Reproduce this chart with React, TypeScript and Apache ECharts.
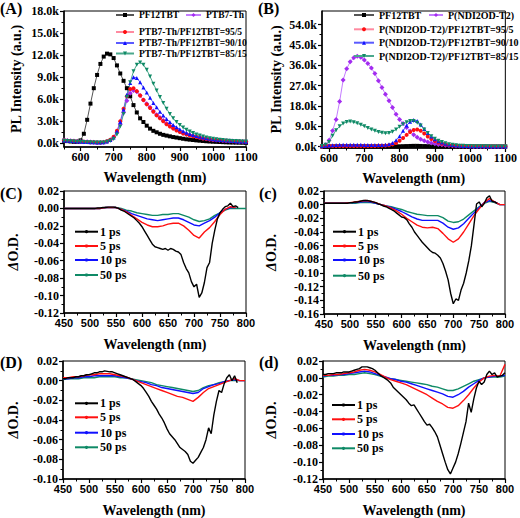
import React, { useEffect, useRef } from 'react';
import * as echarts from 'echarts';

// ---------------- DATA ----------------
// Panel A: PL spectra (k counts)
const A_WL = [550,560,570,580,590,600,610,620,630,640,650,660,670,680,690,700,710,720,730,740,750,760,770,780,790,800,810,820,830,840,850,860,870,880,890,900,910,920,930,940,950,960,970,980,990,1000,1010,1020,1030,1040,1050,1060,1070,1080,1090,1100];
const A_PF12TBT = [0.35,0.3,0.25,0.2,0.2,0.4,1.3,3.2,5.4,7.5,9.3,10.8,11.8,12.2,12.1,11.6,10.6,9.5,8.5,7.5,6.4,5.2,4.2,3.4,2.9,2.4,2.0,1.7,1.5,1.3,1.15,1.05,0.95,0.85,0.78,0.7,0.62,0.55,0.5,0.45,0.4,0.36,0.32,0.28,0.25,0.22,0.2,0.18,0.16,0.14,0.12,0.11,0.1,0.09,0.08,0.07];
const A_PTB7 = [0.45,0.4,0.36,0.32,0.28,0.25,0.22,0.2,0.18,0.15,0.12,0.12,0.15,0.25,0.45,0.8,1.5,2.6,4.2,5.8,6.8,7.2,7.0,6.5,5.9,5.4,4.9,4.4,3.9,3.5,3.1,2.7,2.4,2.1,1.85,1.6,1.4,1.25,1.1,0.98,0.88,0.78,0.7,0.62,0.55,0.5,0.45,0.42,0.38,0.35,0.32,0.3,0.28,0.26,0.24,0.22];
const A_95 = [0.4,0.36,0.32,0.28,0.25,0.22,0.2,0.18,0.16,0.14,0.12,0.12,0.16,0.28,0.5,0.9,1.7,3.0,4.7,6.4,7.4,7.5,7.1,6.5,5.9,5.3,4.8,4.3,3.8,3.4,3.0,2.6,2.3,2.0,1.75,1.55,1.35,1.2,1.05,0.95,0.85,0.75,0.67,0.6,0.53,0.48,0.44,0.4,0.37,0.34,0.31,0.29,0.27,0.25,0.23,0.21];
const A_90 = [0.38,0.34,0.3,0.27,0.24,0.21,0.19,0.17,0.15,0.13,0.12,0.12,0.15,0.26,0.45,0.8,1.6,2.9,4.6,6.6,8.2,9.0,8.9,8.3,7.6,6.9,6.2,5.5,4.9,4.3,3.8,3.3,2.9,2.5,2.2,1.9,1.65,1.45,1.28,1.12,1.0,0.88,0.78,0.7,0.62,0.56,0.5,0.45,0.41,0.37,0.34,0.31,0.28,0.26,0.24,0.22];
const A_85 = [0.35,0.32,0.28,0.25,0.22,0.2,0.18,0.16,0.14,0.12,0.1,0.1,0.12,0.2,0.35,0.6,1.2,2.3,4.0,6.3,8.3,9.8,10.7,11.0,10.7,10.0,9.1,8.1,7.2,6.3,5.5,4.7,4.0,3.4,2.9,2.5,2.15,1.85,1.6,1.4,1.2,1.05,0.92,0.8,0.7,0.62,0.55,0.49,0.44,0.4,0.36,0.33,0.3,0.28,0.26,0.25];

// Panel B: PL spectra (k counts)
const B_WL = [580,590,600,610,620,630,640,650,660,670,680,690,700,710,720,730,740,750,760,770,780,790,800,810,820,830,840,850,860,870,880,890,900,910,920,930,940,950,960,970,980,990,1000,1010,1020,1030,1040,1050,1060,1070,1080,1090,1100];
const B_PF12TBT = [0.05,0.05,0.05,0.05,0.05,0.05,0.05,0.05,0.05,0.05,0.05,0.05,0.05,0.05,0.05,0.05,0.05,0.05,0.05,0.08,0.1,0.12,0.15,0.2,0.25,0.3,0.35,0.35,0.3,0.25,0.2,0.15,0.12,0.1,0.08,0.05,0.05,0.05,0.05,0.05,0.05,0.05,0.05,0.05,0.05,0.05,0.05,0.05,0.05,0.05,0.05,0.05,0.05];
const B_PNDI = [0.1,0.8,2.8,7.0,12.0,20.0,29.5,34.5,37.5,39.3,40.0,39.5,38.3,36.8,34.8,32.3,29.2,26.2,23.2,20.3,17.3,14.3,12.0,10.2,8.5,6.9,5.3,4.2,3.3,2.6,2.0,1.6,1.3,1.0,0.8,0.6,0.5,0.4,0.3,0.25,0.2,0.15,0.12,0.1,0.1,0.08,0.08,0.07,0.07,0.06,0.06,0.05,0.05];
const B_95 = [0.2,0.25,0.3,0.3,0.3,0.3,0.3,0.3,0.3,0.3,0.3,0.3,0.3,0.3,0.3,0.3,0.35,0.4,0.45,0.6,1.0,1.6,2.6,3.8,5.2,6.5,7.4,7.6,7.0,5.8,4.5,3.4,2.5,1.8,1.3,0.95,0.7,0.5,0.38,0.3,0.25,0.2,0.18,0.15,0.13,0.12,0.1,0.1,0.09,0.08,0.08,0.07,0.07];
const B_90 = [0.3,0.4,0.5,0.6,0.7,0.8,0.8,0.85,0.85,0.85,0.8,0.8,0.75,0.75,0.7,0.7,0.7,0.75,0.85,1.1,1.6,2.8,4.6,7.0,9.3,11.0,11.8,11.3,9.8,7.8,6.0,4.5,3.3,2.4,1.8,1.3,1.0,0.75,0.55,0.42,0.33,0.27,0.22,0.19,0.16,0.14,0.12,0.11,0.1,0.09,0.08,0.08,0.07];
const B_85 = [0.3,0.8,2.0,4.8,7.3,9.0,10.2,10.9,11.1,10.8,10.3,9.7,9.0,8.3,7.6,7.0,6.5,6.1,5.9,6.0,6.6,7.6,8.8,9.9,10.8,11.3,11.3,10.6,9.3,7.6,6.0,4.6,3.5,2.6,2.0,1.5,1.1,0.8,0.6,0.45,0.35,0.3,0.25,0.21,0.18,0.16,0.14,0.12,0.11,0.1,0.09,0.08,0.08];

// Transient absorption: black (1 ps) on 5 nm grid, others on 10 nm grid
const T_WL5 = [450,455,460,465,470,475,480,485,490,495,500,505,510,515,520,525,530,535,540,545,550,555,560,565,570,575,580,585,590,595,600,605,610,615,620,625,630,635,640,645,650,655,660,665,670,675,680,685,690,695,700,705,710,715,720,725,730,735,740,745,750,755,760,765,770,775,780,785];
const T_WL5_D = [450,455,460,465,470,475,480,485,490,495,500,505,510,515,520,525,530,535,540,545,550,555,560,565,570,575,580,585,590,595,600,605,610,615,620,625,630,635,640,645,650,655,660,665,670,675,680,685,690,695,700,705,710,715,720,725,730,735,740,745,750,755,760,765,770,775,780,785,790,795,800];
const T_WL10 = [450,460,470,480,490,500,510,520,530,540,550,560,570,580,590,600,610,620,630,640,650,660,670,680,690,700,710,720,730,740,750,760,770,780,790,800];
const DELAYS = ['1 ps', '5 ps', '10 ps', '50 ps'];

const C_1 = [0,0,0,0,0,0,0,0,0,0,0,0,0,0.0005,0.0005,0.001,0.001,0.0015,0.0015,0.0015,0.001,0,-0.002,-0.003,-0.005,-0.007,-0.009,-0.011,-0.014,-0.017,-0.021,-0.026,-0.031,-0.036,-0.041,-0.044,-0.045,-0.046,-0.047,-0.046,-0.048,-0.046,-0.047,-0.049,-0.05,-0.053,-0.062,-0.069,-0.074,-0.084,-0.09,-0.087,-0.102,-0.097,-0.085,-0.068,-0.062,-0.04,-0.025,-0.012,-0.005,-0.001,0.002,0.003,0.006,0.002,0.003,0.001];
const C_5 = [0,0,0,0,0,0,0,0,0.001,0.001,0.001,-0.001,-0.004,-0.008,-0.012,-0.016,-0.019,-0.021,-0.021,-0.02,-0.018,-0.017,-0.017,-0.02,-0.025,-0.031,-0.034,-0.027,-0.022,-0.015,-0.007,-0.001,0.002,0.001,null,null];
const C_10 = [0,0,0,0,0,0,0,0,0.001,0.001,0.001,-0.001,-0.003,-0.006,-0.008,-0.01,-0.012,-0.013,-0.014,-0.013,-0.012,-0.011,-0.011,-0.013,-0.016,-0.019,-0.02,-0.017,-0.014,-0.01,-0.005,-0.001,0.001,0.001,null,null];
const C_50 = [0,0,0,0,0,0,0,0,0.001,0.001,0.001,0,-0.002,-0.003,-0.005,-0.006,-0.007,-0.008,-0.008,-0.007,-0.007,-0.006,-0.006,-0.008,-0.01,-0.013,-0.015,-0.014,-0.012,-0.008,-0.005,-0.002,0,0,0,0];

const c_1 = [0.002,0.002,0.002,0.002,0.002,0.002,0.002,0.002,0.002,0.002,0.003,0.003,0.004,0.004,0.005,0.006,0.006,0.006,0.005,0.004,0.003,0.001,0,-0.002,-0.003,-0.005,-0.007,-0.009,-0.012,-0.015,-0.018,-0.019,-0.022,-0.028,-0.033,-0.04,-0.045,-0.05,-0.055,-0.059,-0.063,-0.067,-0.07,-0.071,-0.074,-0.078,-0.086,-0.097,-0.11,-0.13,-0.145,-0.138,-0.14,-0.125,-0.115,-0.1,-0.082,-0.06,-0.03,0.001,0.004,-0.003,0.002,0.01,0.013,0.005,0.004,0.002];
const c_5 = [0.002,0.002,0.002,0.002,0.002,0.003,0.004,0.005,0.006,0.005,0.003,0,-0.002,-0.005,-0.009,-0.014,-0.02,-0.025,-0.03,-0.033,-0.034,-0.033,-0.035,-0.042,-0.05,-0.055,-0.05,-0.04,-0.028,-0.016,-0.006,0.003,0.009,0.004,0,0];
const c_10 = [0.002,0.002,0.002,0.002,0.002,0.003,0.003,0.004,0.005,0.004,0.002,0,-0.002,-0.004,-0.007,-0.01,-0.014,-0.018,-0.021,-0.023,-0.023,-0.023,-0.023,-0.027,-0.033,-0.036,-0.034,-0.028,-0.02,-0.012,-0.004,0.003,0.006,0.004,0,0];
const c_50 = [0.002,0.002,0.002,0.002,0.002,0.002,0.002,0.003,0.003,0.003,0.002,0,-0.002,-0.003,-0.005,-0.007,-0.01,-0.012,-0.014,-0.015,-0.016,-0.016,-0.016,-0.019,-0.024,-0.026,-0.025,-0.021,-0.015,-0.009,-0.003,0.002,0.005,0.003,0,0];

const D_1 = [0.002,0.002,0.003,0.003,0.003,0.004,0.004,0.005,0.005,0.006,0.006,0.007,0.008,0.008,0.009,0.009,0.01,0.0095,0.009,0.009,0.008,0.007,0.006,0.005,0.004,0.003,0.002,0.001,-0.001,-0.003,-0.005,-0.008,-0.012,-0.016,-0.021,-0.025,-0.029,-0.034,-0.038,-0.043,-0.049,-0.054,-0.057,-0.06,-0.064,-0.068,-0.07,-0.072,-0.075,-0.082,-0.084,-0.081,-0.078,-0.073,-0.068,-0.06,-0.048,-0.054,-0.035,-0.021,-0.01,-0.012,-0.003,0.003,0.006,0,0.005,-0.002];
const D_5 = [0.003,0.003,0.004,0.004,0.005,0.006,0.006,0.007,0.007,0.007,0.006,0.005,0.004,0.002,0,-0.002,-0.004,-0.006,-0.008,-0.01,-0.012,-0.014,-0.016,-0.017,-0.019,-0.021,-0.017,-0.012,-0.008,-0.006,-0.004,-0.002,0,0.002,0,0];
const D_10 = [0.002,0.002,0.003,0.003,0.004,0.004,0.005,0.005,0.005,0.005,0.005,0.004,0.003,0.002,0,-0.001,-0.002,-0.004,-0.005,-0.007,-0.008,-0.009,-0.01,-0.011,-0.012,-0.013,-0.012,-0.008,-0.006,-0.004,-0.003,-0.001,0,0.001,0,0];
const D_50 = [0.001,0.002,0.002,0.002,0.003,0.003,0.003,0.004,0.004,0.004,0.004,0.003,0.003,0.002,0.001,0,-0.001,-0.002,-0.004,-0.005,-0.006,-0.007,-0.008,-0.009,-0.01,-0.011,-0.01,-0.007,-0.005,-0.004,-0.002,-0.001,0,0,0,0];

const d_1 = [0.004,0.004,0.005,0.005,0.005,0.006,0.006,0.006,0.007,0.007,0.007,0.008,0.009,0.01,0.011,0.013,0.013,0.013,0.012,0.011,0.009,0.006,0.003,0.001,-0.001,-0.003,-0.006,-0.011,-0.014,-0.017,-0.02,-0.023,-0.026,-0.03,-0.033,-0.032,-0.037,-0.042,-0.047,-0.052,-0.056,-0.055,-0.059,-0.064,-0.07,-0.08,-0.09,-0.1,-0.109,-0.114,-0.107,-0.1,-0.09,-0.078,-0.065,-0.052,-0.03,-0.041,-0.025,-0.012,-0.004,-0.008,-0.005,0.004,0.008,0.004,0.006,0.001,0.002,0.003,0.006];
const d_5 = [0.003,0.003,0.004,0.004,0.005,0.006,0.007,0.009,0.01,0.009,0.007,0.004,0.001,-0.002,-0.004,-0.006,-0.008,-0.011,-0.014,-0.017,-0.02,-0.024,-0.028,-0.031,-0.035,-0.036,-0.033,-0.027,-0.02,-0.012,-0.005,0,0.002,0.003,0.002,0.016];
const d_10 = [0.002,0.003,0.003,0.004,0.004,0.005,0.006,0.007,0.008,0.007,0.005,0.003,0.001,-0.001,-0.002,-0.004,-0.005,-0.007,-0.009,-0.011,-0.013,-0.015,-0.017,-0.019,-0.022,-0.023,-0.02,-0.016,-0.011,-0.007,-0.003,0,0.001,0.002,0.002,0.003];
const d_50 = [0.001,0.002,0.002,0.003,0.003,0.004,0.004,0.005,0.006,0.005,0.004,0.002,0,-0.001,-0.002,-0.003,-0.004,-0.005,-0.006,-0.007,-0.008,-0.01,-0.011,-0.013,-0.015,-0.015,-0.013,-0.01,-0.007,-0.004,-0.002,0,0.001,0.001,0.001,0.002];

// Tick values
const PL_A_TICKS = [0, 3, 6, 9, 12, 15, 18];
const PL_A_MINOR = [1.5, 4.5, 7.5, 10.5, 13.5, 16.5];
const PL_B_TICKS = [0, 9, 18, 27, 36, 45, 54];
const PL_B_MINOR = [4.5, 13.5, 22.5, 31.5, 40.5, 49.5];
const PL_X_TICKS = [600, 700, 800, 900, 1000, 1100];
const PL_XA_MINOR = [550, 650, 750, 850, 950, 1050];
const PL_XB_MINOR = [650, 750, 850, 950, 1050];
const TA_X_TICKS = [450, 500, 550, 600, 650, 700, 750, 800];
const TA_X_MINOR = [475, 525, 575, 625, 675, 725, 775];
const TA_Y_C = [-0.12, -0.1, -0.08, -0.06, -0.04, -0.02, 0, 0.02];
const TA_Y_c = [-0.16, -0.14, -0.12, -0.1, -0.08, -0.06, -0.04, -0.02, 0, 0.02];
const TA_Y_D = [-0.1, -0.08, -0.06, -0.04, -0.02, 0, 0.02];
const TA_Y_d = [-0.12, -0.1, -0.08, -0.06, -0.04, -0.02, 0, 0.02];

// ---------------- STYLE ----------------
const SERIF = 'Liberation Serif';
const SANS = 'Liberation Sans';
const COL = { k: '#000000', r: '#ff1010', b: '#1010ff', g: '#0f8a66', p: '#a32cf0' };
const LINE = { k: '#555555', r: '#ff8aa0', b: '#5a5aff', g: '#4aa88c', p: '#c47cff' };

const pts = (x: number[], y: (number | null)[]) => x.map((v, i) => [v, y[i]]);

function axes(dim: 'x' | 'y', grid: number, min: number, max: number, majors: number[], minors: number[],
  fmt: (v: number) => string, font: string, name: string, nameGap: number, nameSize: number, nameRich?: any) {
  const main: any = {
    type: 'value', gridIndex: grid, min, max, position: dim === 'x' ? 'bottom' : 'left',
    axisLine: { show: true, onZero: false, lineStyle: { color: '#000', width: 1.5 } },
    axisTick: { show: true, inside: false, length: 4, customValues: majors, lineStyle: { color: '#000', width: 1.2 } },
    axisLabel: { show: true, customValues: majors, formatter: fmt, color: '#000', fontFamily: font, fontWeight: 'bold', fontSize: font === SANS ? 11 : 12, margin: dim === 'x' ? 4 : 5 },
    splitLine: { show: false },
    name, nameLocation: 'middle', nameGap,
    nameMoveOverlap: dim === 'x',
    nameTextStyle: { color: '#000', fontFamily: SERIF, fontWeight: 'bold', fontSize: nameSize, rich: nameRich },
  };
  const minor: any = {
    type: 'value', gridIndex: grid, min, max, position: dim === 'x' ? 'bottom' : 'left',
    axisLine: { show: false, onZero: false },
    axisTick: { show: true, inside: false, length: 2.5, customValues: minors, lineStyle: { color: '#000', width: 1 } },
    axisLabel: { show: false },
    splitLine: { show: false },
  };
  return [main, minor];
}

const mids = (arr: number[]) => arr.slice(0, -1).map((v) => +(v + 0.01).toFixed(3));

function leg(name: string, left: number, cy: number, w: number, size: number, h: number) {
  return {
    data: [name], left, top: cy - 7, orient: 'horizontal', padding: 0, itemGap: 0,
    itemWidth: w, itemHeight: h, align: 'left',
    selectedMode: false,
    textStyle: { color: '#000', fontFamily: SERIF, fontWeight: 'bold', fontSize: size, lineHeight: 14 },
  };
}

export default function App() {
  const ref = useRef<HTMLDivElement>(null);
  useEffect(() => {
    if (!ref.current) return;
    const chart = echarts.init(ref.current, undefined, { renderer: 'svg' });

    const grids = [
      { left: 64, top: 11, width: 182, height: 136 },
      { left: 322, top: 11, width: 185, height: 137 },
      { left: 64, top: 191, width: 182, height: 122 },
      { left: 324, top: 191, width: 181, height: 123 },
      { left: 63, top: 361, width: 182, height: 123 },
      { left: 323, top: 361, width: 182, height: 124 },
    ].map(g => ({ ...g, show: true, borderColor: '#000', borderWidth: 1, backgroundColor: 'transparent' }));

    const kfmt = (v: number) => v.toFixed(1) + 'k';
    const nmfmt = (v: number) => String(Math.round(v));
    const odfmt = (v: number) => (Math.abs(v) < 1e-9 ? '0.00' : v.toFixed(2));
    const wl = 'Wavelength (nm)';
    const od = '{i|Δ}O.D.';
    const odRich = { i: { fontStyle: 'italic', fontFamily: SERIF, fontWeight: 'bold', fontSize: 14, color: '#000' } };

    const xAxis = [
      ...axes('x', 0, 550, 1100, PL_X_TICKS, PL_XA_MINOR, nmfmt, SERIF, wl, 23, 14),
      ...axes('x', 1, 580, 1100, PL_X_TICKS, PL_XB_MINOR, nmfmt, SERIF, wl, 23, 14),
      ...axes('x', 2, 450, 800, TA_X_TICKS, TA_X_MINOR, nmfmt, SANS, wl, 24, 14),
      ...axes('x', 3, 450, 800, TA_X_TICKS, TA_X_MINOR, nmfmt, SANS, wl, 24, 14),
      ...axes('x', 4, 450, 800, TA_X_TICKS, TA_X_MINOR, nmfmt, SANS, wl, 24, 14),
      ...axes('x', 5, 450, 800, TA_X_TICKS, TA_X_MINOR, nmfmt, SANS, wl, 24, 14),
    ];
    const yAxis = [
      ...axes('y', 0, -0.5, 18, PL_A_TICKS, PL_A_MINOR, kfmt, SERIF, 'PL Intensity (a.u.)', 41, 14),
      ...axes('y', 1, -0.6, 60, PL_B_TICKS, PL_B_MINOR, kfmt, SERIF, 'PL Intensity (a.u.)', 39, 14),
      ...axes('y', 2, -0.12, 0.02, TA_Y_C, mids(TA_Y_C), odfmt, SERIF, od, 44, 14, odRich),
      ...axes('y', 3, -0.16, 0.02, TA_Y_c, mids(TA_Y_c), odfmt, SERIF, od, 46, 14, odRich),
      ...axes('y', 4, -0.1, 0.02, TA_Y_D, mids(TA_Y_D), odfmt, SERIF, od, 43, 14, odRich),
      ...axes('y', 5, -0.12, 0.02, TA_Y_d, mids(TA_Y_d), odfmt, SERIF, od, 45, 14, odRich),
    ];

    const mk = (name: string, g: number, x: number[], y: (number | null)[], c: keyof typeof COL, symbol: string, rot = 0) => ({
      type: 'line', name, xAxisIndex: 2 * g, yAxisIndex: 2 * g, data: pts(x, y),
      symbol, symbolSize: symbol === 'diamond' ? 5 : 4, symbolRotate: rot, showSymbol: true,
      itemStyle: { color: COL[c] }, lineStyle: { color: LINE[c], width: 1 },
      emphasis: { disabled: true }, silent: true, z: 3,
    });
    const tl = (name: string, g: number, x: number[], y: (number | null)[], c: keyof typeof COL) => ({
      type: 'line', name, xAxisIndex: 2 * g, yAxisIndex: 2 * g, data: pts(x, y),
      symbol: 'none', showSymbol: false, connectNulls: false,
      itemStyle: { color: COL[c] }, lineStyle: { color: COL[c], width: 1.4 },
      emphasis: { disabled: true }, silent: true,
    });

    const series: any[] = [
      mk('PF12TBT', 0, A_WL, A_PF12TBT, 'k', 'rect'),
      mk('PTB7-Th', 0, A_WL, A_PTB7, 'p', 'diamond'),
      mk('PTB7-Th/PF12TBT=95/5', 0, A_WL, A_95, 'r', 'circle'),
      mk('PTB7-Th/PF12TBT=90/10', 0, A_WL, A_90, 'b', 'triangle'),
      mk('PTB7-Th/PF12TBT=85/15', 0, A_WL, A_85, 'g', 'triangle', 180),
      mk('PF12TBT', 1, B_WL, B_PF12TBT, 'k', 'rect'),
      mk('P(NDI2OD-T2)', 1, B_WL, B_PNDI, 'p', 'diamond'),
      mk('P(NDI2OD-T2)/PF12TBT=95/5', 1, B_WL, B_95, 'r', 'circle'),
      mk('P(NDI2OD-T2)/PF12TBT=90/10', 1, B_WL, B_90, 'b', 'triangle'),
      mk('P(NDI2OD-T2)/PF12TBT=85/15', 1, B_WL, B_85, 'g', 'triangle', 180),
    ];
    const TA: [number, number[], number[], number[], number[], number[]][] = [
      [2, T_WL5, C_1, C_5, C_10, C_50],
      [3, T_WL5, c_1, c_5, c_10, c_50],
      [4, T_WL5, D_1, D_5, D_10, D_50],
      [5, T_WL5_D, d_1, d_5, d_10, d_50],
    ];
    TA.forEach(([g, x5, s1, s5, s10, s50]) => {
      series.push(tl(DELAYS[3], g, T_WL10, s50, 'g'));
      series.push(tl(DELAYS[2], g, T_WL10, s10, 'b'));
      series.push(tl(DELAYS[1], g, T_WL10, s5, 'r'));
      series.push(tl(DELAYS[0], g, x5, s1, 'k'));
    });

    const legend: any[] = [];
    const taLeg: [number, number[]][] = [
      [74, [231.7, 246, 260, 275]],
      [332, [231.7, 246, 260, 275.7]],
      [74, [403.3, 417.3, 432.7, 447.3]],
      [331, [405, 419.3, 434, 448.3]],
    ];
    taLeg.forEach(([x, ys]) => {
      DELAYS.forEach((d, i) => legend.push({
        ...leg(d, x, ys[i], 23, 12, 4),
        lineStyle: { width: 2 },
        textStyle: { color: '#000', fontFamily: SERIF, fontWeight: 'bold', fontSize: 12, lineHeight: 14, padding: [0, 0, 0, -3] },
      }));
    });
    legend.push(
      leg('PF12TBT', 115, 15, 18, 9.5, 5),
      leg('PTB7-Th', 185, 15, 15, 9.5, 5),
      leg('PTB7-Th/PF12TBT=95/5', 115, 32, 18, 9.5, 5),
      leg('PTB7-Th/PF12TBT=90/10', 115, 43, 18, 9.5, 5),
      leg('PTB7-Th/PF12TBT=85/15', 115, 53.5, 18, 9.5, 5),
      leg('PF12TBT', 353, 15, 20, 10, 5),
      leg('P(NDI2OD-T2)', 428, 15, 14, 10, 5),
      leg('P(NDI2OD-T2)/PF12TBT=95/5', 353, 29.3, 20, 10, 5),
      leg('P(NDI2OD-T2)/PF12TBT=90/10', 353, 42.7, 20, 10, 5),
      leg('P(NDI2OD-T2)/PF12TBT=85/15', 353, 56, 20, 10, 5),
    );

    const lbl = (t: string, x: number, y: number) => ({
      type: 'text', left: x, top: y, silent: true,
      style: { text: t, fill: '#000', font: `bold 16px "${SERIF}"` },
    });

    chart.setOption({
      animation: false,
      backgroundColor: '#ffffff',
      grid: grids,
      xAxis, yAxis, series, legend,
      graphic: [
        lbl('(A)', 0, 0), lbl('(B)', 258, 0), lbl('(C)', 0, 185), lbl('(c)', 259, 185), lbl('(D)', 0, 354), lbl('(d)', 259, 354),
      ],
    });
    return () => chart.dispose();
  }, []);
  return <div ref={ref} style={{ position: 'absolute', left: 0, top: 0, width: 520, height: 518, background: '#fff' }} />;
}
